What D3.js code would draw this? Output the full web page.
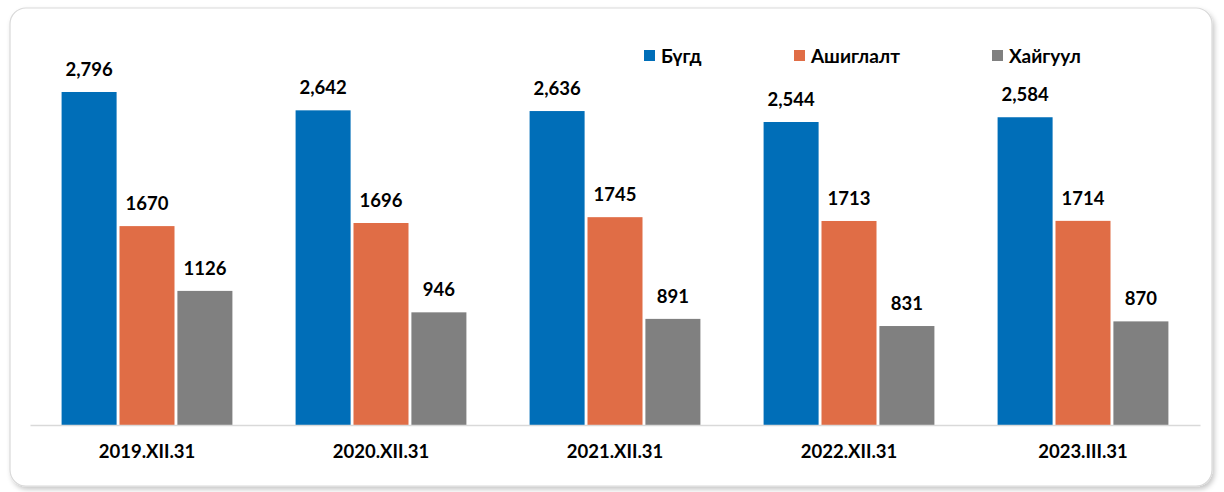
<!DOCTYPE html>
<html><head><meta charset="utf-8">
<script src="https://cdn.jsdelivr.net/npm/d3@7"></script>
<style>body{margin:0;background:#fff}svg{display:block}</style>
</head><body>
<svg id="c" width="1224" height="492"></svg>
<script>
const categories = ["2019.XII.31","2020.XII.31","2021.XII.31","2022.XII.31","2023.III.31"];
const seriesNames = ["Бүгд","Ашиглалт","Хайгуул"];
const total = [2796,2642,2636,2544,2584];
const exploitation = [1670,1696,1745,1713,1714];
const exploration = [1126,946,891,831,870];
const colors = ["#006EB8","#E06D46","#808080"];
const seriesValues = [total, exploitation, exploration];
const fmt = [d3.format(","), d3.format("d"), d3.format("d")];

const svg = d3.select("#c");
const font = "Lato, 'Open Sans', sans-serif";
const defs = svg.append("defs");
const f = defs.append("filter").attr("id","sh").attr("x","-5%").attr("y","-5%").attr("width","110%").attr("height","115%");
f.append("feDropShadow").attr("dx",2).attr("dy",3).attr("stdDeviation",2.5).attr("flood-color","#000").attr("flood-opacity",0.22);

svg.append("rect").attr("x",10).attr("y",8).attr("width",1202).attr("height",478).attr("rx",16)
  .attr("fill","#fff").attr("stroke","#d9d9d9").attr("stroke-width",1.2).attr("filter","url(#sh)");

const x0 = d3.scaleBand().domain(categories).range([30,1200]).paddingInner(0.27).paddingOuter(0.135);
const x1 = d3.scaleBand().domain(seriesNames).range([0,x0.bandwidth()]).paddingInner(0.05);
const y = d3.scaleLinear().domain([0,3000]).range([425,67.7]);

const g = svg.append("g");
categories.forEach((c,i)=>{
  seriesNames.forEach((s,j)=>{
    const v = seriesValues[j][i];
    const bx = x0(c)+x1(s);
    g.append("rect").attr("x",bx).attr("y",y(v)).attr("width",x1.bandwidth()).attr("height",y(0)-y(v)).attr("fill",colors[j]);
    g.append("text").attr("x",bx+x1.bandwidth()/2).attr("y",y(v)-16).attr("text-anchor","middle")
      .attr("font-family",font).attr("font-weight","bold").attr("font-size",18.5).attr("fill","#000").text(fmt[j](v));
  });
});

const xa = svg.append("g").attr("transform","translate(0,425)").call(d3.axisBottom(x0).tickSize(0).tickPadding(20));
xa.select(".domain").attr("stroke","#d9d9d9").attr("stroke-width",1.5);
xa.selectAll("text").attr("font-family",font).attr("font-weight","bold").attr("font-size",18.5).attr("fill","#000");

const legX = [644,794,992];
seriesNames.forEach((s,j)=>{
  svg.append("rect").attr("x",legX[j]).attr("y",50).attr("width",11).attr("height",11).attr("fill",colors[j]);
  svg.append("text").attr("x",legX[j]+17).attr("y",62.5).attr("font-family",font).attr("font-weight","bold")
    .attr("font-size",19).attr("fill","#000").text(s);
});
</script>
</body></html>
